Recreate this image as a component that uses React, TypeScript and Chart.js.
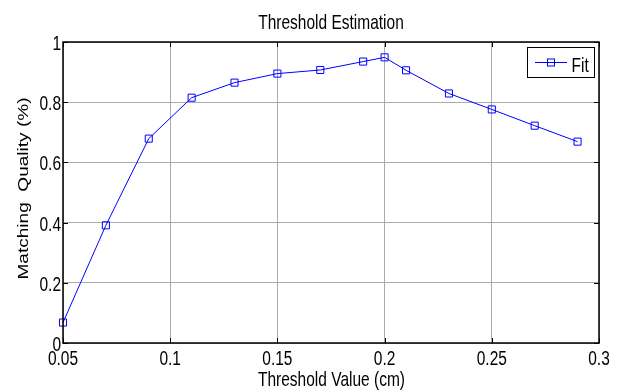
import React, { useEffect, useRef } from "react";
import { Chart, registerables } from "chart.js";

Chart.register(...registerables);

const thresholds = [0.05, 0.07, 0.09, 0.11, 0.13, 0.15, 0.17, 0.19, 0.2, 0.21, 0.23, 0.25, 0.27, 0.29];
const quality = [0.068, 0.391, 0.679, 0.815, 0.865, 0.895, 0.907, 0.935, 0.949, 0.906, 0.829, 0.776, 0.722, 0.669];
const xTickValues = [0.05, 0.1, 0.15, 0.2, 0.25, 0.3];
const xTickLabels = ["0.05", "0.1", "0.15", "0.2", "0.25", "0.3"];
const yTickValues = [0, 0.2, 0.4, 0.6, 0.8, 1];
const yTickLabels = ["0", "0.2", "0.4", "0.6", "0.8", "1"];
const titleText = "Threshold Estimation";
const xTitle = "Threshold Value (cm)";
const yTitle = "Matching  Quality (%)";
const seriesName = "Fit";

const FONT = '"Liberation Sans", Arial, sans-serif';
const VS = 1.27;

function stretchedText(
  ctx: CanvasRenderingContext2D,
  text: string,
  x: number,
  y: number,
  size: number,
  align: CanvasTextAlign,
  rotate = false
) {
  ctx.save();
  ctx.translate(x, y);
  if (rotate) {
    ctx.rotate(-Math.PI / 2);
    ctx.scale(VS, 1);
  } else {
    ctx.scale(1, VS);
  }
  ctx.font = `${size}px ${FONT}`;
  ctx.fillStyle = "#000";
  ctx.textAlign = align;
  ctx.textBaseline = "alphabetic";
  ctx.fillText(text, 0, 0);
  ctx.restore();
}

const decorPlugin = {
  id: "matlabDecor",
  afterDraw(chart: any) {
    const ctx: CanvasRenderingContext2D = chart.ctx;
    const { left, right, top, bottom } = chart.chartArea;
    const xs = chart.scales.x;
    const ys = chart.scales.y;

    // frame
    ctx.save();
    ctx.strokeStyle = "#000";
    ctx.lineWidth = 1.5;
    ctx.strokeRect(left, top, right - left, bottom - top);
    // inward ticks
    ctx.lineWidth = 1;
    const tl = 5;
    xTickValues.forEach((v) => {
      const px = Math.round(xs.getPixelForValue(v)) + 0.5;
      ctx.beginPath();
      ctx.moveTo(px, bottom);
      ctx.lineTo(px, bottom - tl);
      ctx.moveTo(px, top);
      ctx.lineTo(px, top + tl);
      ctx.stroke();
    });
    yTickValues.forEach((v) => {
      const py = Math.round(ys.getPixelForValue(v)) + 0.5;
      ctx.beginPath();
      ctx.moveTo(left, py);
      ctx.lineTo(left + tl, py);
      ctx.moveTo(right, py);
      ctx.lineTo(right - tl, py);
      ctx.stroke();
    });
    ctx.restore();

    // tick labels
    xTickValues.forEach((v, i) => {
      stretchedText(ctx, xTickLabels[i], xs.getPixelForValue(v), bottom + 21.5, 15.5, "center");
    });
    yTickValues.forEach((v, i) => {
      stretchedText(ctx, yTickLabels[i], left - 2, ys.getPixelForValue(v) + 8, 15.5, "right");
    });

    // titles
    const cx = (left + right) / 2;
    stretchedText(ctx, titleText, cx, 29, 15.5, "center");
    stretchedText(ctx, xTitle, cx + 0.5, 385.7, 15.5, "center");
    stretchedText(ctx, yTitle, 28, (top + bottom) / 2 - 4, 15, "center", true);

    // legend
    ctx.save();
    const bx = 527.5, by = 47.5, bw = 67, bh = 30;
    ctx.fillStyle = "#fff";
    ctx.fillRect(bx, by, bw, bh);
    ctx.strokeStyle = "#000";
    ctx.lineWidth = 1;
    ctx.strokeRect(bx, by, bw, bh);
    ctx.strokeStyle = "#0000ff";
    ctx.beginPath();
    ctx.moveTo(535, 62.5);
    ctx.lineTo(567, 62.5);
    ctx.stroke();
    ctx.strokeRect(547.5, 59, 7, 7);
    ctx.restore();
    stretchedText(ctx, seriesName, 571.5, 71.7, 15.5, "left");
  },
};

export default function App() {
  const ref = useRef<HTMLCanvasElement | null>(null);
  useEffect(() => {
    if (!ref.current) return;
    const chart = new Chart(ref.current, {
      type: "line",
      data: {
        datasets: [
          {
            label: seriesName,
            data: thresholds.map((x, i) => ({ x, y: quality[i] })),
            borderColor: "#0000ff",
            borderWidth: 1,
            backgroundColor: "rgba(0,0,0,0)",
            pointStyle: "rect",
            pointRadius: 5,
            pointBorderColor: "#0000ff",
            pointBackgroundColor: "rgba(0,0,0,0)",
            pointBorderWidth: 1,
            tension: 0,
            fill: false,
            clip: false,
          },
        ],
      },
      options: {
        animation: false,
        responsive: false,
        devicePixelRatio: 1,
        layout: { padding: { left: 63, right: 26, top: 42, bottom: 47 } },
        plugins: {
          legend: { display: false },
          title: { display: false },
          tooltip: { enabled: false },
        },
        scales: {
          x: {
            type: "linear",
            min: 0.05,
            max: 0.3,
            afterBuildTicks: (axis: any) => {
              axis.ticks = xTickValues.map((v) => ({ value: v }));
            },
            ticks: { display: false },
            grid: { color: "#ababab", lineWidth: 1, drawTicks: false },
            border: { display: false },
          },
          y: {
            type: "linear",
            min: 0,
            max: 1,
            afterBuildTicks: (axis: any) => {
              axis.ticks = yTickValues.map((v) => ({ value: v }));
            },
            ticks: { display: false },
            grid: { color: "#ababab", lineWidth: 1, drawTicks: false },
            border: { display: false },
          },
        },
      },
      plugins: [decorPlugin],
    });
    return () => chart.destroy();
  }, []);
  return (
    <div style={{ position: "absolute", left: 0, top: 0, width: 625, height: 390, background: "#fff" }}>
      <canvas ref={ref} width={625} height={390} />
    </div>
  );
}
